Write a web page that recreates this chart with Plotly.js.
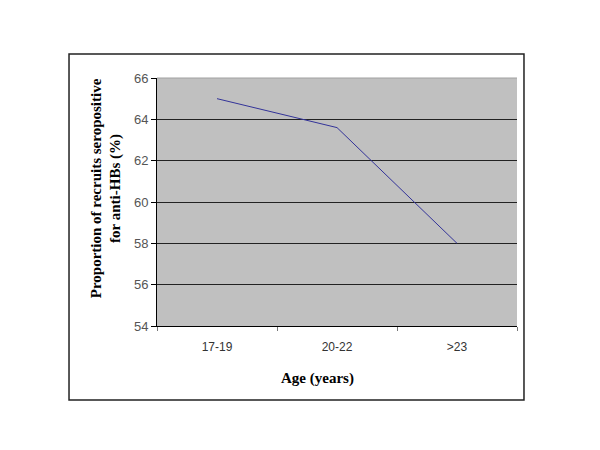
<!DOCTYPE html>
<html>
<head>
<meta charset="utf-8">
<script src="https://cdn.plot.ly/plotly-3.0.1.min.js"></script>
<style>body{margin:0;padding:0;background:#fff;}#chart{width:600px;height:450px;}</style>
</head>
<body>
<div id="chart"></div>
<script>
var categories = ["17-19", "20-22", ">23"];
var values = [65.0, 63.6, 58.0];
var yTickValues = [54, 56, 58, 60, 62, 64, 66];
var xTitle = "Age (years)";
var yTitle = "Proportion of recruits seropositive<br>for anti-HBs (%)";

var trace = {
  x: categories,
  y: values,
  type: "scatter",
  mode: "lines",
  line: {color: "#333399", width: 1},
  hoverinfo: "none"
};

var layout = {
  width: 600,
  height: 450,
  margin: {l: 157, r: 83, t: 78, b: 124},
  paper_bgcolor: "#ffffff",
  plot_bgcolor: "#c0c0c0",
  showlegend: false,
  font: {family: "Liberation Sans, Arial, sans-serif", size: 12, color: "#333333"},
  xaxis: {
    type: "category",
    range: [-0.5, 2.5],
    tickson: "boundaries",
    ticks: "outside",
    ticklen: 4,
    tickcolor: "#777777",
    ticklabelstandoff: 10,
    showgrid: false,
    showline: true,
    linecolor: "#000000",
    linewidth: 1,
    tickfont: {family: "Liberation Sans, Arial, sans-serif", size: 12, color: "#333333"},
    fixedrange: true
  },
  yaxis: {
    range: [54, 66],
    tickvals: yTickValues,
    ticks: "outside",
    ticklen: 5,
    tickcolor: "#000000",
    showgrid: true,
    gridcolor: "#222222",
    gridwidth: 1,
    zeroline: false,
    showline: true,
    linecolor: "#000000",
    linewidth: 1,
    tickfont: {family: "Liberation Sans, Arial, sans-serif", size: 13, color: "#555555"},
    fixedrange: true
  },
  shapes: [
    {type: "rect", xref: "paper", yref: "paper", x0: -0.2444, x1: 1.0194, y0: -0.2984, y1: 1.0968,
     line: {color: "#222222", width: 1.5}, fillcolor: "rgba(0,0,0,0)", layer: "below"},
    {type: "line", xref: "paper", yref: "paper", x0: 0, x1: 1, y0: 1, y1: 1,
     line: {color: "#a0a0a0", width: 1}}
  ],
  annotations: [
    {text: xTitle, xref: "paper", yref: "paper", x: 0.447, y: -0.21, xanchor: "center", yanchor: "middle",
     showarrow: false, font: {family: "Liberation Serif, Times New Roman, serif", size: 15, color: "#000000", weight: "bold"}},
    {text: yTitle, xref: "paper", yref: "paper", x: -0.142, y: 0.555, xanchor: "center", yanchor: "middle",
     textangle: -90, showarrow: false,
     font: {family: "Liberation Serif, Times New Roman, serif", size: 15, color: "#000000", weight: "bold"}}
  ]
};

Plotly.newPlot("chart", [trace], layout, {staticPlot: true, displayModeBar: false});
</script>
</body>
</html>
